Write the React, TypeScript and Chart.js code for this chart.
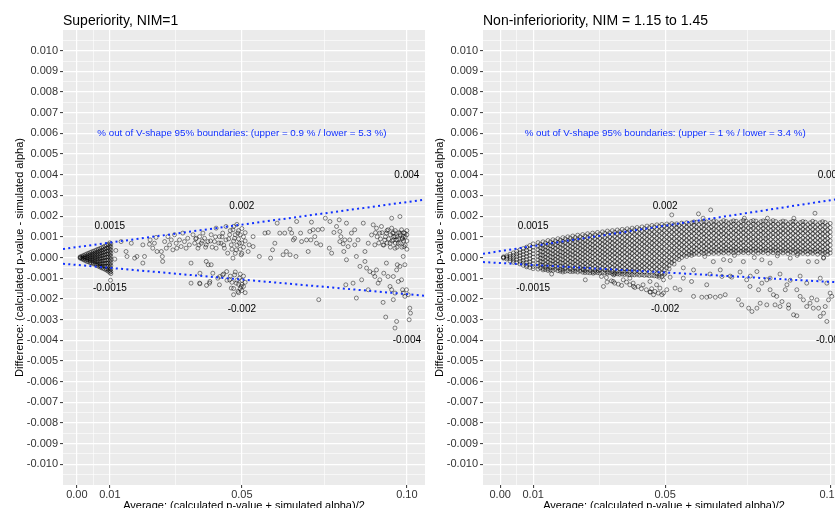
import React, { useEffect, useRef } from "react";
import { Chart, registerables } from "chart.js";

Chart.register(...registerables);

const FONT = '"Liberation Sans", Arial, Helvetica, sans-serif';
const BLUE = "#1030ff";

// ---- axes ----
const Y_MAJOR = [-0.010, -0.009, -0.008, -0.007, -0.006, -0.005, -0.004, -0.003, -0.002, -0.001, 0, 0.001, 0.002, 0.003, 0.004, 0.005, 0.006, 0.007, 0.008, 0.009, 0.010];
const Y_MINOR = [-0.0105, -0.0095, -0.0085, -0.0075, -0.0065, -0.0055, -0.0045, -0.0035, -0.0025, -0.0015, -0.0005, 0.0005, 0.0015, 0.0025, 0.0035, 0.0045, 0.0055, 0.0065, 0.0075, 0.0085, 0.0095, 0.0105];
const X_MAJOR = [0, 0.01, 0.05, 0.1];
const X_LABELS = ["0.00", "0.01", "0.05", "0.10"];
const X_MINOR = [0.005, 0.03, 0.075];
const Y_RANGE = [-0.011, 0.011];
const SUP_X_RANGE = [-0.0042, 0.1055];
const NI_X_RANGE = [-0.0052, 0.1045];

// ---- titles & annotations ----
const SUP_TITLE = "Superiority, NIM=1";
const NI_TITLE = "Non-inferioriority, NIM = 1.15 to 1.45";
const X_TITLE = "Average: (calculated p-value + simulated alpha)/2";
const Y_TITLE = "Difference: (calculated p-value - simulated alpha)";
const SUP_NOTE = "% out of V-shape 95% boundaries: (upper = 0.9 % / lower = 5.3 %)";
const NI_NOTE = "% out of V-shape 95% boundaries: (upper = 1 % / lower = 3.4 %)";
const NOTE_X = 0.05;
const NOTE_Y = 0.006;
const LABEL_TEXT = ["0.0015", "-0.0015", "0.002", "-0.002", "0.004", "-0.004"];
const LABEL_X = [0.01, 0.01, 0.05, 0.05, 0.1, 0.1];
const LABEL_Y = [0.0015, -0.0015, 0.0025, -0.0025, 0.004, -0.004];

// ---- V-shape boundary lines ----
const SUP_UPPER = [[-0.0042, 0.00041], [0.1055, 0.0028]];
const SUP_LOWER = [[-0.0042, -0.0003], [0.1055, -0.00185]];
const NI_UPPER = [[-0.0052, 0.00018], [0.1045, 0.00288]];
const NI_LOWER = [[-0.0052, -0.00022], [0.1045, -0.00122]];

// ---- Superiority points: dense near-origin column groups [x, [y...]] ----
const SUP_BLOB: [number, number[]][] = [
  [0.0010, [0, 0.00003, -0.00003]],
  [0.0015, [0.00006, -0.00002, -0.00006]],
  [0.0020, [0.0001, 0.00002, -0.00005, -0.00011]],
  [0.0025, [0.00013, 0.00004, -0.00004, -0.00014]],
  [0.0030, [0.00017, 0.00007, -0.00002, -0.00011, -0.00019]],
  [0.0035, [0.0002, 0.0001, 0, -0.0001, -0.0002]],
  [0.0040, [0.00024, 0.00013, 0.00003, -0.00007, -0.00016, -0.00025]],
  [0.0045, [0.00027, 0.00016, 0.00005, -0.00005, -0.00015, -0.00026]],
  [0.0050, [0.0003, 0.00019, 0.00008, -0.00003, -0.00013, -0.00023, -0.00031]],
  [0.0055, [0.00033, 0.00022, 0.00011, 0, -0.00011, -0.00021, -0.00032]],
  [0.0060, [0.00037, 0.00025, 0.00013, 0.00002, -0.00009, -0.0002, -0.00031, -0.00038]],
  [0.0065, [0.0004, 0.00028, 0.00016, 0.00004, -0.00008, -0.0002, -0.00032, -0.00042]],
  [0.0070, [0.00043, 0.00031, 0.00019, 0.00007, -0.00005, -0.00017, -0.00029, -0.0004, -0.00046]],
  [0.0075, [0.00047, 0.00034, 0.00021, 0.00008, -0.00005, -0.00018, -0.00031, -0.00043, -0.0005]],
  [0.0080, [0.0005, 0.00037, 0.00024, 0.00011, -0.00002, -0.00015, -0.00028, -0.00041, -0.00053]],
  [0.0085, [0.00055, 0.00041, 0.00027, 0.00013, -0.00001, -0.00015, -0.00029, -0.00043, -0.00057]],
  [0.0090, [0.00059, 0.00045, 0.0003, 0.00016, 0.00002, -0.00012, -0.00027, -0.00041, -0.00055, -0.00061]],
  [0.0095, [0.00063, 0.00048, 0.00033, 0.00018, 0.00003, -0.00012, -0.00027, -0.00042, -0.00056, -0.00066]],
  [0.0100, [0.00071, 0.00057, 0.00042, 0.00027, 0.00012, -0.00003, -0.00018, -0.00033, -0.00048, -0.00062, -0.00072]],
  [0.0103, [0.00066, 0.0005, 0.00035, 0.0002, 0.00005, -0.0001, -0.00025, -0.0004, -0.00055, -0.00068, -0.00078]],
];

// ---- Superiority points: scattered [x, y] ----
const SUP_MID: [number, number][] = [
  [0.0102, -0.0011], [0.0115, -0.00008], [0.0118, 0.00034], [0.0134, 0.00077], [0.0149, 0.00029], [0.0152, 0.00005],
  [0.0165, 0.00069], [0.0175, -0.00003], [0.0182, 0.00005], [0.020, 0.00061], [0.020, -0.00027], [0.0205, 0.00005],
  [0.022, 0.00064], [0.0222, 0.00085], [0.023, 0.00045], [0.0235, 0.00069], [0.024, 0.00097], [0.0243, 0.00029],
  [0.0256, 0.00029], [0.0259, 0.00005], [0.026, -0.00019], [0.0266, 0.00077], [0.0271, 0.00045], [0.0276, 0.00101],
  [0.0281, 0.00061], [0.0286, 0.00085], [0.0291, 0.00037], [0.0296, 0.0011], [0.0301, 0.00069], [0.0303, 0.00045],
  [0.0311, 0.00085], [0.0316, 0.00053], [0.0321, 0.00118], [0.0326, 0.00077], [0.0331, 0.00045], [0.0336, 0.00093],
  [0.0341, 0.00061], [0.0346, -0.00027], [0.0346, -0.00124], [0.0352, 0.0011], [0.0357, 0.00069], [0.0362, 0.00093],
  [0.0367, 0.00045], [0.0372, 0.00101], [0.0372, -0.00124], [0.0377, 0.00069], [0.0382, 0.00118], [0.0387, 0.00093],
  [0.0392, -0.00019], [0.0392, 0.00061], [0.0397, 0.00077], [0.0402, -0.00124], [0.0407, 0.0011], [0.0407, -0.00035],
  [0.0412, -0.00076], [0.0417, 0.00077], [0.0422, 0.00142], [0.0422, 0.00045], [0.0427, -0.001], [0.0432, 0.00101],
  [0.0432, -0.00132], [0.0437, 0.00069], [0.0442, 0.00118], [0.0442, -0.00084], [0.0447, 0.00045], [0.0452, 0.0015],
  [0.0452, 0.00085], [0.0454, -0.00068], [0.0457, 0.00021], [0.0463, 0.0011], [0.0463, -0.00108], [0.0468, 0.00061],
  [0.0468, -0.00148], [0.0473, 0.00134], [0.0473, -0.00003], [0.0478, 0.00093], [0.0478, -0.00084], [0.0483, 0.00037],
  [0.0483, -0.00124], [0.0488, 0.00118], [0.0488, -0.00164], [0.0493, 0.00069], [0.0493, -0.001], [0.0498, 0.00013],
  [0.0498, -0.0014], [0.0373, -0.00076], [0.0398, -0.00035], [0.0403, -0.00116], [0.0433, -0.00092], [0.0373, -0.00127],
  [0.0393, -0.00135], [0.046, 0.0009], [0.0465, 0.0013], [0.047, 0.0004], [0.0475, 0.0008], [0.048, 0.0011],
  [0.048, 0.0002], [0.0485, 0.0006], [0.049, 0.0013], [0.049, 0.0009], [0.0495, 0.0004], [0.0495, 0.0011],
  [0.05, 0.0007], [0.05, 0.0014], [0.05, 0.0002], [0.0505, 0.001], [0.0505, 0.0005], [0.051, 0.0012],
  [0.051, 0.0008], [0.0445, 0.0006], [0.044, 0.001], [0.043, 0.0007], [0.042, 0.001], [0.041, 0.0005],
  [0.0405, 0.0008], [0.039, 0.0005], [0.038, 0.0008], [0.037, 0.0006], [0.036, 0.0009], [0.0475, 0.0015],
  [0.0485, 0.0016], [0.0465, -0.0009], [0.047, -0.0012], [0.0475, -0.0015], [0.048, -0.0007], [0.0485, -0.0011],
  [0.049, -0.0013], [0.049, -0.0017], [0.0495, -0.0008], [0.0495, -0.0015], [0.05, -0.0011], [0.05, -0.0013],
  [0.05, -0.0016], [0.0505, -0.0009], [0.0505, -0.0014], [0.051, -0.0012], [0.051, -0.0017], [0.0455, -0.0011],
  [0.0445, -0.0008], [0.0475, -0.0018],
];

const SUP_FAR: [number, number][] = [
  [0.0522, 0.00061], [0.0534, 0.00101], [0.0534, 0.00053], [0.0519, 0.00029], [0.0553, 0.00005], [0.057, 0.00118],
  [0.058, 0.00121], [0.0587, -0.00003], [0.0593, 0.00037], [0.06, 0.00069], [0.0607, 0.00166], [0.0615, 0.00118],
  [0.0625, 0.00013], [0.063, 0.00118], [0.0635, 0.00029], [0.0646, 0.00137], [0.0646, 0.00013], [0.0651, 0.00118],
  [0.0656, 0.00085], [0.066, 0.00093], [0.0664, 0.00005], [0.0666, 0.00174], [0.0678, 0.00118], [0.0681, 0.00077],
  [0.0696, 0.00085], [0.0701, 0.00029], [0.0706, 0.00126], [0.0709, 0.00085], [0.0711, 0.00171], [0.0716, 0.00134],
  [0.0721, 0.00101], [0.0726, 0.00069], [0.0731, 0.00134], [0.0733, -0.00204], [0.0739, 0.00061], [0.0744, 0.00137],
  [0.0753, 0.0019], [0.0767, 0.00174], [0.0765, 0.00045], [0.0772, 0.00021], [0.0779, 0.00121], [0.0787, 0.0015],
  [0.0795, 0.00182], [0.0797, 0.00126], [0.08, 0.00101], [0.0797, 0.00077], [0.0807, 0.00066], [0.0809, 0.00029],
  [0.0815, -0.00132], [0.0817, 0.00166], [0.0812, 0.00085], [0.0817, -0.00011], [0.0822, 0.00053], [0.0827, 0.00085],
  [0.0832, 0.00118], [0.0837, -0.00124], [0.0842, 0.00134], [0.0842, 0.00061], [0.0847, 0.00005], [0.0847, -0.00196],
  [0.0852, 0.00085], [0.0858, -0.00043], [0.0863, -0.00108], [0.0868, 0.00166], [0.0873, -0.00019], [0.0873, 0.00029],
  [0.0878, -0.00051], [0.0883, 0.00069], [0.0883, -0.00156], [0.0888, -0.00068], [0.0893, 0.00109], [0.0898, 0.00158],
  [0.0898, -0.00076], [0.0903, 0.00061], [0.0903, -0.00092], [0.0908, 0.00142], [0.0908, -0.0006], [0.0913, -0.00124],
  [0.0918, 0.00118], [0.0918, -0.00108], [0.0923, 0.0015], [0.0928, 0.00061], [0.0928, -0.00217], [0.093, -0.00076],
  [0.0933, 0.00085], [0.0936, -0.00288], [0.0938, 0.00118], [0.0938, -0.00027], [0.0943, 0.00134], [0.0943, -0.00092],
  [0.0949, 0.00069], [0.0949, -0.0014], [0.0954, 0.0019], [0.0954, 0.00142], [0.0954, -0.00156], [0.0957, 0.00118],
  [0.0959, 0.00085], [0.0959, -0.00092], [0.0959, -0.00204], [0.0964, 0.00101], [0.0964, 0.00045], [0.0964, -0.00172],
  [0.0964, -0.00341], [0.0969, 0.00085], [0.0969, -0.0006], [0.0969, -0.00309], [0.0971, -0.00035], [0.0974, 0.00069],
  [0.0974, -0.00116], [0.0979, 0.00198], [0.0979, 0.00118], [0.0979, -0.00043], [0.0984, 0.00134], [0.0984, -0.00108],
  [0.0987, 0.00093], [0.0987, -0.00156], [0.0989, 0.00101], [0.0989, 0.00005], [0.0989, -0.00172], [0.0991, 0.00053],
  [0.0994, 0.00118], [0.0994, -0.00035], [0.0994, -0.00188], [0.0999, -0.00156], [0.1004, -0.0018], [0.1009, -0.00245],
  [0.1011, -0.00269], [0.1007, -0.00301], [0.092, 0.0009], [0.0925, 0.0012], [0.093, 0.0006], [0.0935, 0.001],
  [0.094, 0.0013], [0.094, 0.0007], [0.0945, 0.0009], [0.095, 0.0011], [0.095, 0.0005], [0.0955, 0.0008],
  [0.096, 0.0012], [0.096, 0.001], [0.0965, 0.0007], [0.0965, 0.0013], [0.097, 0.001], [0.097, 0.0005],
  [0.0975, 0.0012], [0.0975, 0.0009], [0.098, 0.0007], [0.098, 0.0011], [0.0985, 0.0009], [0.0985, 0.0005],
  [0.099, 0.0012], [0.099, 0.0008], [0.0995, 0.001], [0.0995, 0.0006], [0.1, 0.0011], [0.1, 0.0008],
  [0.1, 0.0013], [0.1, 0.0004], [0.0915, 0.0007], [0.091, 0.001], [0.0905, 0.0012],
];

// ---- Non-inferiority points: dense band column groups [x, [y...]] ----
const NI_BAND: [number, number[]][] = [
  [0.0010, [0.00003, -0.00003, 0]],
  [0.0020, [0.00008, 0.00001, -0.00007]],
  [0.0030, [0.00016, 0.00005, -0.00006, -0.00017]],
  [0.0040, [0.00022, 0.0001, -0.00002, -0.00013, -0.00023]],
  [0.0050, [0.0003, 0.00017, 0.00004, -0.0001, -0.00024]],
  [0.0060, [0.00037, 0.00023, 0.00009, -0.00005, -0.00018, -0.00031]],
  [0.0070, [0.00043, 0.00029, 0.00014, 0, -0.00014, -0.00027, -0.00038]],
  [0.0080, [0.0005, 0.00035, 0.0002, 0.00005, -0.0001, -0.00024, -0.00038, -0.00045]],
  [0.0090, [0.00058, 0.00042, 0.00026, 0.0001, -0.00006, -0.00021, -0.00035, -0.00048]],
  [0.0100, [0.00066, 0.0005, 0.00034, 0.00018, 0.00002, -0.00014, -0.0003, -0.00044, -0.00054]],
  [0.0115, [0.00072, 0.00055, 0.00038, 0.00021, 0.00005, -0.00011, -0.00027, -0.00042, -0.00056]],
  [0.0130, [0.00076, 0.0006, 0.00043, 0.00027, 0.0001, -0.00006, -0.00022, -0.00038, -0.00053, -0.0006]],
  [0.0145, [0.00082, 0.00064, 0.00046, 0.00029, 0.00012, -0.00005, -0.00022, -0.00039, -0.00056, -0.00063]],
  [0.0160, [0.00086, 0.00069, 0.00052, 0.00034, 0.00017, 0, -0.00017, -0.00033, -0.0005, -0.00062]],
  [0.0175, [0.00091, 0.00072, 0.00054, 0.00036, 0.00018, 0.00001, -0.00016, -0.00033, -0.0005, -0.00064]],
  [0.0190, [0.00096, 0.00078, 0.0006, 0.00042, 0.00024, 0.00006, -0.00011, -0.00028, -0.00045, -0.00061, -0.0007]],
  [0.0205, [0.001, 0.00082, 0.00063, 0.00044, 0.00026, 0.00008, -0.0001, -0.00028, -0.00046, -0.00064]],
  [0.0220, [0.00104, 0.00085, 0.00066, 0.00048, 0.0003, 0.00012, -0.00006, -0.00024, -0.00042, -0.0006, -0.00068]],
  [0.0235, [0.00108, 0.00089, 0.0007, 0.00051, 0.00033, 0.00014, -0.00004, -0.00022, -0.0004, -0.00058, -0.0007]],
  [0.0250, [0.00111, 0.00092, 0.00073, 0.00054, 0.00036, 0.00017, -0.00002, -0.0002, -0.00039, -0.00057, -0.00071]],
  [0.0265, [0.00115, 0.00096, 0.00076, 0.00057, 0.00038, 0.00019, 0, -0.00019, -0.00038, -0.00056, -0.00072]],
  [0.0280, [0.00118, 0.00099, 0.0008, 0.00061, 0.00042, 0.00023, 0.00004, -0.00015, -0.00034, -0.00053, -0.0007]],
  [0.0295, [0.00121, 0.00101, 0.00082, 0.00062, 0.00043, 0.00023, 0.00004, -0.00016, -0.00035, -0.00054, -0.00073]],
  [0.0310, [0.00124, 0.00104, 0.00084, 0.00065, 0.00045, 0.00026, 0.00007, -0.00013, -0.00032, -0.00051, -0.00071]],
  [0.0325, [0.00128, 0.00108, 0.00088, 0.00068, 0.00048, 0.00028, 0.00009, -0.00011, -0.0003, -0.0005, -0.00069, -0.00076]],
  [0.0340, [0.0013, 0.0011, 0.0009, 0.0007, 0.0005, 0.00031, 0.00011, -0.00009, -0.00029, -0.00048, -0.00068, -0.00078]],
  [0.0355, [0.00133, 0.00113, 0.00093, 0.00073, 0.00053, 0.00033, 0.00013, -0.00007, -0.00027, -0.00046, -0.00066, -0.00079]],
  [0.0370, [0.00136, 0.00116, 0.00095, 0.00075, 0.00055, 0.00035, 0.00015, -0.00005, -0.00025, -0.00045, -0.00065, -0.0008]],
  [0.0385, [0.00139, 0.00119, 0.00098, 0.00078, 0.00058, 0.00037, 0.00017, -0.00003, -0.00024, -0.00044, -0.00064, -0.00081]],
  [0.0400, [0.00142, 0.00122, 0.00101, 0.00081, 0.0006, 0.0004, 0.0002, -0.00001, -0.00022, -0.00042, -0.00062, -0.00082]],
  [0.0415, [0.00145, 0.00124, 0.00103, 0.00082, 0.00062, 0.00041, 0.0002, 0, -0.00021, -0.00041, -0.00061, -0.00081]],
  [0.0430, [0.00148, 0.00127, 0.00106, 0.00085, 0.00064, 0.00043, 0.00022, 0.00001, -0.0002, -0.0004, -0.0006, -0.00083]],
  [0.0445, [0.00152, 0.0013, 0.00109, 0.00088, 0.00067, 0.00046, 0.00025, 0.00004, -0.00017, -0.00038, -0.00059, -0.00084]],
  [0.0460, [0.00155, 0.00134, 0.00112, 0.00091, 0.0007, 0.00049, 0.00028, 0.00006, -0.00015, -0.00036, -0.00057, -0.00086]],
  [0.0475, [0.00158, 0.00136, 0.00114, 0.00093, 0.00072, 0.0005, 0.00029, 0.00008, -0.00014, -0.00035, -0.00056, -0.00078, -0.0009]],
  [0.0490, [0.0016, 0.00139, 0.00117, 0.00096, 0.00074, 0.00052, 0.00031, 0.00009, -0.00012, -0.00033, -0.00055, -0.00076, -0.00092]],
  [0.0505, [0.00162, 0.00142, 0.0012, 0.00098, 0.00077, 0.00055, 0.00033, 0.00012, -0.0001, -0.0003, -0.0005]],
  [0.0520, [0.00164, 0.00144, 0.00122, 0.001, 0.00079, 0.00057, 0.00036, 0.00014, -0.00007, -0.00025]],
  [0.0535, [0.00163, 0.00143, 0.00122, 0.00101, 0.0008, 0.00059, 0.00038, 0.00017, -0.00004]],
  [0.0550, [0.00166, 0.00145, 0.00124, 0.00103, 0.00082, 0.00061, 0.0004, 0.00019, 0]],
  [0.0565, [0.00168, 0.00147, 0.00126, 0.00105, 0.00084, 0.00063, 0.00042, 0.00021, 0.00005]],
  [0.0580, [0.00167, 0.00146, 0.00125, 0.00104, 0.00083, 0.00062, 0.00041, 0.00022]],
  [0.0595, [0.0017, 0.00148, 0.00127, 0.00104, 0.00085, 0.00062, 0.00043, 0.00023]],
  [0.0610, [0.00169, 0.00146, 0.00127, 0.00107, 0.00084, 0.00065, 0.00043, 0.00025]],
  [0.0625, [0.00172, 0.00151, 0.00128, 0.00106, 0.00087, 0.00064, 0.00045, 0.00026]],
  [0.0640, [0.0017, 0.00148, 0.00129, 0.00107, 0.00085, 0.00066, 0.00044, 0.00027]],
  [0.0655, [0.00173, 0.00152, 0.0013, 0.00108, 0.00088, 0.00066, 0.00047, 0.00028]],
  [0.0670, [0.00171, 0.00149, 0.00129, 0.00109, 0.00086, 0.00067, 0.00045, 0.00028]],
  [0.0685, [0.00174, 0.00153, 0.0013, 0.00108, 0.00088, 0.00065, 0.00046, 0.0003]],
  [0.0700, [0.00172, 0.0015, 0.00131, 0.00109, 0.00087, 0.00068, 0.00046, 0.0003]],
  [0.0715, [0.00175, 0.00153, 0.0013, 0.00111, 0.00089, 0.00067, 0.00048, 0.00031]],
  [0.0730, [0.00173, 0.00152, 0.00132, 0.0011, 0.00088, 0.00069, 0.00047, 0.0003]],
  [0.0745, [0.00176, 0.00154, 0.00131, 0.0011, 0.0009, 0.00068, 0.00046, 0.00032]],
  [0.0760, [0.00174, 0.00152, 0.00133, 0.00111, 0.00089, 0.00069, 0.00048, 0.0003]],
  [0.0775, [0.00176, 0.00155, 0.00132, 0.0011, 0.00088, 0.00068, 0.00047, 0.00031]],
  [0.0790, [0.00173, 0.00152, 0.0013, 0.00111, 0.00089, 0.00067, 0.00048, 0.0003]],
  [0.0805, [0.00175, 0.00153, 0.00131, 0.00109, 0.0009, 0.00068, 0.00046, 0.00032]],
  [0.0820, [0.00172, 0.00151, 0.00131, 0.00109, 0.00087, 0.00067, 0.00046, 0.0003]],
  [0.0835, [0.00174, 0.00152, 0.0013, 0.0011, 0.00088, 0.00066, 0.00047, 0.00031]],
  [0.0850, [0.00171, 0.0015, 0.00128, 0.00108, 0.00087, 0.00066, 0.00045, 0.00029]],
  [0.0865, [0.00173, 0.00151, 0.0013, 0.00108, 0.00086, 0.00066, 0.00045, 0.0003]],
  [0.0880, [0.0017, 0.00149, 0.00128, 0.00107, 0.00087, 0.00065, 0.00044, 0.00028]],
  [0.0895, [0.00172, 0.0015, 0.00127, 0.00107, 0.00085, 0.00065, 0.00044, 0.00029]],
  [0.0910, [0.00169, 0.00148, 0.00127, 0.00106, 0.00086, 0.00064, 0.00043, 0.00027]],
  [0.0925, [0.00171, 0.00149, 0.00128, 0.00106, 0.00085, 0.00063, 0.00043, 0.00028]],
  [0.0940, [0.00168, 0.00147, 0.00126, 0.00105, 0.00084, 0.00064, 0.00042, 0.00026]],
  [0.0955, [0.0017, 0.00148, 0.00127, 0.00105, 0.00083, 0.00063, 0.00042, 0.00027]],
  [0.0970, [0.00168, 0.00147, 0.00125, 0.00105, 0.00084, 0.00062, 0.00042, 0.00025]],
  [0.0985, [0.00169, 0.00148, 0.00126, 0.00104, 0.00084, 0.00063, 0.00041, 0.00024]],
  [0.1000, [0.00165, 0.00144, 0.00123, 0.00102, 0.00081, 0.0006, 0.00039, 0.00022]],
];

// ---- Non-inferiority points: second, interleaved dense band [x, [y...]] ----
const NI_BAND_B: [number, number[]][] = [
  [0.0122, [0.00064, 0.00047, 0.0003, 0.00013, -0.00003, -0.00019, -0.00035, -0.0005]],
  [0.0137, [0.0007, 0.00051, 0.00036, 0.00018, 0.00002, -0.00014, -0.00031, -0.00046, -0.00058]],
  [0.0152, [0.00075, 0.00057, 0.0004, 0.00022, 0.00004, -0.00013, -0.00029, -0.00048, -0.0006]],
  [0.0167, [0.0008, 0.00061, 0.00044, 0.00025, 0.00008, -0.00009, -0.00026, -0.00042, -0.00057]],
  [0.0182, [0.00084, 0.00065, 0.00047, 0.00028, 0.00011, -0.00007, -0.00025, -0.00041, -0.00058, -0.00066]],
  [0.0197, [0.0009, 0.0007, 0.00052, 0.00033, 0.00015, -0.00002, -0.0002, -0.00037, -0.00053, -0.00067]],
  [0.0212, [0.00094, 0.00073, 0.00055, 0.00036, 0.00017, -0.00001, -0.00019, -0.00037, -0.00055, -0.00068]],
  [0.0227, [0.00097, 0.00076, 0.00058, 0.00039, 0.00021, 0.00003, -0.00015, -0.00033, -0.00051, -0.00066]],
  [0.0242, [0.001, 0.0008, 0.00061, 0.00043, 0.00024, 0.00005, -0.00013, -0.00031, -0.00049, -0.00065]],
  [0.0257, [0.00104, 0.00083, 0.00065, 0.00045, 0.00027, 0.00008, -0.00011, -0.00029, -0.00047, -0.00064, -0.00073]],
  [0.0272, [0.00107, 0.00087, 0.00067, 0.00048, 0.00029, 0.0001, -0.00009, -0.00027, -0.00046, -0.00063, -0.00074]],
  [0.0287, [0.0011, 0.0009, 0.00071, 0.00051, 0.00033, 0.00013, -0.00006, -0.00025, -0.00044, -0.00062, -0.00072]],
  [0.0302, [0.00113, 0.00093, 0.00073, 0.00054, 0.00034, 0.00015, -0.00004, -0.00023, -0.00042, -0.00061, -0.00075]],
  [0.0317, [0.00117, 0.00096, 0.00076, 0.00056, 0.00037, 0.00017, -0.00002, -0.00021, -0.0004, -0.0006, -0.00074]],
  [0.0332, [0.0012, 0.00099, 0.00079, 0.00059, 0.00039, 0.00019, 0, -0.00019, -0.00039, -0.00058, -0.00073]],
  [0.0347, [0.00122, 0.00102, 0.00081, 0.00061, 0.00041, 0.00021, 0.00002, -0.00018, -0.00037, -0.00057, -0.00074, -0.0008]],
  [0.0362, [0.00125, 0.00104, 0.00083, 0.00063, 0.00043, 0.00023, 0.00004, -0.00016, -0.00036, -0.00055, -0.00072, -0.00081]],
  [0.0377, [0.00128, 0.00107, 0.00086, 0.00065, 0.00045, 0.00025, 0.00005, -0.00015, -0.00034, -0.00054, -0.00072, -0.00082]],
  [0.0392, [0.00131, 0.0011, 0.00089, 0.00068, 0.00048, 0.00027, 0.00007, -0.00013, -0.00033, -0.00053, -0.00071, -0.00083]],
  [0.0407, [0.00134, 0.00113, 0.00092, 0.00071, 0.0005, 0.0003, 0.00009, -0.00011, -0.00031, -0.00051, -0.00071, -0.00084]],
  [0.0422, [0.00137, 0.00116, 0.00095, 0.00074, 0.00053, 0.00032, 0.00011, -0.0001, -0.0003, -0.0005, -0.0007, -0.00085]],
  [0.0437, [0.0014, 0.00119, 0.00097, 0.00076, 0.00055, 0.00034, 0.00013, -0.00008, -0.00029, -0.00049, -0.0007, -0.00086]],
  [0.0452, [0.00144, 0.00122, 0.00101, 0.00079, 0.00058, 0.00037, 0.00016, -0.00005, -0.00026, -0.00047, -0.00068, -0.00088]],
  [0.0467, [0.00147, 0.00125, 0.00103, 0.00082, 0.00061, 0.00039, 0.00018, -0.00003, -0.00024, -0.00045, -0.00067, -0.00089]],
  [0.0482, [0.0015, 0.00128, 0.00106, 0.00084, 0.00063, 0.00042, 0.0002, -0.00001, -0.00022, -0.00044, -0.00065, -0.00086, -0.00095]],
  [0.0497, [0.00152, 0.00131, 0.00109, 0.00087, 0.00066, 0.00044, 0.00022, 0.00001, -0.0002, -0.00041, -0.00062, -0.00082]],
  [0.0512, [0.00155, 0.00133, 0.00111, 0.0009, 0.00068, 0.00046, 0.00025, 0.00003, -0.00018, -0.00038, -0.00055]],
  [0.0527, [0.00157, 0.00135, 0.00113, 0.00092, 0.0007, 0.00048, 0.00027, 0.00005, -0.00015, -0.00032]],
  [0.0542, [0.00155, 0.00134, 0.00112, 0.00091, 0.0007, 0.00049, 0.00028, 0.00008, -0.0001]],
  [0.0557, [0.00158, 0.00136, 0.00115, 0.00094, 0.00073, 0.00052, 0.00031, 0.0001]],
  [0.0572, [0.0016, 0.00138, 0.00116, 0.00095, 0.00074, 0.00053, 0.00032, 0.00014]],
  [0.0602, [0.0016, 0.00138, 0.00117, 0.00096, 0.00075, 0.00054, 0.00034, 0.00015]],
  [0.0632, [0.00162, 0.0014, 0.00118, 0.00097, 0.00076, 0.00055, 0.00035, 0.00018]],
  [0.0662, [0.00163, 0.00141, 0.00119, 0.00098, 0.00077, 0.00056, 0.00036, 0.0002]],
  [0.0692, [0.00165, 0.00143, 0.0012, 0.00099, 0.00078, 0.00057, 0.00037, 0.00021]],
  [0.0722, [0.00164, 0.00142, 0.00121, 0.001, 0.00079, 0.00058, 0.00038, 0.00022]],
  [0.0752, [0.00166, 0.00143, 0.00121, 0.001, 0.00079, 0.00058, 0.00038, 0.00022]],
  [0.0782, [0.00164, 0.00142, 0.0012, 0.00099, 0.00078, 0.00057, 0.00037, 0.00021]],
  [0.0812, [0.00163, 0.00141, 0.0012, 0.00099, 0.00078, 0.00057, 0.00037, 0.0002]],
  [0.0842, [0.00162, 0.0014, 0.00119, 0.00098, 0.00077, 0.00056, 0.00036, 0.0002]],
  [0.0872, [0.00161, 0.00139, 0.00118, 0.00097, 0.00076, 0.00055, 0.00035, 0.00019]],
  [0.0902, [0.0016, 0.00138, 0.00117, 0.00096, 0.00075, 0.00054, 0.00034, 0.00018]],
  [0.0932, [0.00159, 0.00137, 0.00116, 0.00095, 0.00074, 0.00053, 0.00033, 0.00017]],
  [0.0962, [0.00158, 0.00136, 0.00115, 0.00094, 0.00073, 0.00052, 0.00032, 0.00016]],
  [0.0992, [0.00156, 0.00134, 0.00113, 0.00092, 0.00071, 0.0005, 0.0003, 0.00015]],
];

// ---- Non-inferiority points: third band layer, upper-right region [x, [y...]] ----
const NI_BAND_C: [number, number[]][] = [
  [0.0587, [0.00172, 0.00156, 0.00135, 0.00116, 0.00093, 0.00073, 0.00052, 0.00033, 0.00016]],
  [0.0617, [0.00175, 0.00157, 0.00137, 0.00115, 0.00096, 0.00074, 0.00055, 0.00035, 0.00019]],
  [0.0647, [0.00176, 0.00158, 0.00136, 0.00117, 0.00095, 0.00076, 0.00054, 0.00036, 0.0002]],
  [0.0677, [0.00178, 0.00159, 0.00138, 0.00116, 0.00097, 0.00075, 0.00056, 0.00037, 0.00022]],
  [0.0707, [0.00177, 0.00161, 0.00139, 0.00118, 0.00096, 0.00077, 0.00055, 0.00038, 0.00023]],
  [0.0737, [0.00179, 0.0016, 0.00138, 0.00119, 0.00098, 0.00076, 0.00057, 0.00037, 0.00024]],
  [0.0767, [0.00178, 0.00161, 0.0014, 0.00118, 0.00097, 0.00078, 0.00056, 0.00039, 0.00023]],
  [0.0797, [0.00177, 0.00159, 0.00139, 0.00119, 0.00096, 0.00077, 0.00057, 0.00038, 0.00024]],
  [0.0827, [0.00178, 0.0016, 0.00138, 0.00117, 0.00098, 0.00076, 0.00055, 0.00037, 0.00023]],
  [0.0857, [0.00176, 0.00158, 0.00137, 0.00118, 0.00096, 0.00075, 0.00056, 0.00036, 0.00022]],
  [0.0887, [0.00175, 0.00159, 0.00138, 0.00116, 0.00095, 0.00076, 0.00054, 0.00037, 0.00021]],
  [0.0917, [0.00174, 0.00157, 0.00136, 0.00117, 0.00094, 0.00074, 0.00055, 0.00035, 0.0002]],
  [0.0947, [0.00175, 0.00156, 0.00135, 0.00115, 0.00095, 0.00073, 0.00053, 0.00034, 0.0002]],
  [0.0977, [0.00173, 0.00155, 0.00134, 0.00114, 0.00093, 0.00072, 0.00052, 0.00033, 0.00019]],
];

// ---- Non-inferiority points: scattered [x, y] ----
const NI_SPARSE: [number, number][] = [
  [0.0156, -0.0008], [0.0252, -0.0006], [0.0258, -0.00108], [0.0282, -0.00076], [0.0297, -0.00064], [0.0307, -0.00092],
  [0.0313, -0.0014], [0.0322, -0.00097], [0.0324, -0.00119], [0.0337, -0.00113], [0.0343, -0.00116], [0.0344, -0.00084],
  [0.0347, -0.00124], [0.0358, -0.00129], [0.0368, -0.00135], [0.0373, -0.00108], [0.0383, -0.00119], [0.0393, -0.00132],
  [0.0393, -0.001], [0.0403, -0.00124], [0.0404, -0.0014], [0.0408, -0.00145], [0.0418, -0.0014], [0.0428, -0.00151],
  [0.0433, -0.00132], [0.0443, -0.00156], [0.0454, -0.00167], [0.0455, -0.00167], [0.0454, -0.00116], [0.0459, -0.00151],
  [0.0469, -0.00164], [0.0474, -0.00132], [0.0479, -0.00172], [0.0484, -0.00148], [0.049, -0.0018], [0.0465, -0.0018],
  [0.0495, -0.00108], [0.05, -0.00076], [0.0515, -0.00095], [0.0495, -0.00172], [0.0505, -0.00156], [0.053, -0.00148],
  [0.0545, -0.00156], [0.0555, -0.001], [0.058, -0.00116], [0.0586, -0.00188], [0.0611, -0.00192], [0.0626, -0.00132],
  [0.0626, -0.00192], [0.0636, -0.00188], [0.0652, -0.00192], [0.0667, -0.00188], [0.0672, -0.00092], [0.0682, -0.0018],
  [0.0702, -0.00095], [0.0722, -0.00204], [0.0732, -0.00229], [0.0747, -0.00108], [0.0753, -0.00245], [0.0757, -0.0014],
  [0.0763, -0.00261], [0.0778, -0.00068], [0.0778, -0.00245], [0.0783, -0.00156], [0.0788, -0.00221], [0.0793, -0.00124],
  [0.0808, -0.00108], [0.0808, -0.00229], [0.0818, -0.00156], [0.0828, -0.0018], [0.0833, -0.00229], [0.0838, -0.00188],
  [0.0848, -0.00237], [0.0854, -0.00213], [0.0864, -0.00156], [0.0869, -0.00132], [0.0874, -0.00229], [0.0874, -0.00245],
  [0.0889, -0.00277], [0.0899, -0.00156], [0.0899, -0.00282], [0.0909, -0.00188], [0.0919, -0.00205], [0.0929, -0.00124],
  [0.0929, -0.00237], [0.0939, -0.00221], [0.0944, -0.00196], [0.0949, -0.00245], [0.096, -0.00205], [0.0965, -0.00245],
  [0.097, -0.00285], [0.098, -0.00269], [0.0985, -0.00237], [0.099, -0.00309], [0.099, -0.00124], [0.0995, -0.00205],
  [0.1, -0.00172], [0.1005, -0.00188], [0.0646, -0.0002], [0.0697, -0.00015], [0.0677, -0.0001], [0.0737, -0.0002],
  [0.0793, -0.00011], [0.0818, -0.00027], [0.0879, -0.00003], [0.0934, -0.0002], [0.098, -0.00003], [0.096, -0.0002],
  [0.058, 0.0001], [0.062, 0.00005], [0.071, 0.0001], [0.077, 0], [0.084, 0.00008], [0.09, 0.0001], [0.098, 0],
  [0.052, 0.00206], [0.0601, 0.00211], [0.0638, 0.0023], [0.0954, 0.00214], [0.0615, 0.0019], [0.074, 0.0019],
  [0.081, 0.0019], [0.089, 0.0019], [0.0555, -0.0005], [0.0586, -0.0006], [0.0636, -0.0008], [0.0667, -0.0006],
  [0.0697, -0.0009], [0.0727, -0.0007], [0.0758, -0.0009], [0.0818, -0.001], [0.0848, -0.0008], [0.0879, -0.0011],
  [0.0909, -0.0009], [0.097, -0.001],
];

type Pair = [number, number];

function fromCols(cols: [number, number[]][]) {
  const out: { x: number; y: number }[] = [];
  cols.forEach(([x, ys]) => ys.forEach((y) => out.push({ x, y })));
  return out;
}
function fromPairs(pairs: Pair[]) {
  return pairs.map(([x, y]) => ({ x, y }));
}

type PanelProps = {
  left: number;
  title: string;
  note: string;
  xRange: number[];
  points: { x: number; y: number }[];
  upper: number[][];
  lower: number[][];
};

function Panel({ left, title, note, xRange, points, upper, lower }: PanelProps) {
  const ref = useRef<HTMLCanvasElement>(null);
  useEffect(() => {
    const decor = {
      id: "decor",
      beforeDraw(chart: any) {
        const { ctx, chartArea: a } = chart;
        ctx.save();
        ctx.fillStyle = "#EBEBEB";
        ctx.fillRect(a.left, a.top, a.right - a.left, a.bottom - a.top);
        ctx.restore();
      },
      afterDatasetsDraw(chart: any) {
        const { ctx, scales } = chart;
        const xs = scales.x;
        const ys = scales.y;
        ctx.save();
        ctx.fillStyle = "#000";
        ctx.font = `10px ${FONT}`;
        ctx.textAlign = "center";
        ctx.textBaseline = "middle";
        LABEL_TEXT.forEach((t, i) => {
          ctx.fillText(t, xs.getPixelForValue(LABEL_X[i]), ys.getPixelForValue(LABEL_Y[i]));
        });
        ctx.fillStyle = BLUE;
        ctx.font = `9.8px ${FONT}`;
        ctx.fillText(note, xs.getPixelForValue(NOTE_X), ys.getPixelForValue(NOTE_Y));
        ctx.restore();
      },
      afterDraw(chart: any) {
        const { ctx, chartArea: a } = chart;
        ctx.save();
        ctx.fillStyle = "#000";
        ctx.font = `14px ${FONT}`;
        ctx.textAlign = "left";
        ctx.textBaseline = "alphabetic";
        ctx.fillText(title, a.left, 25);
        ctx.font = `11px ${FONT}`;
        ctx.textAlign = "center";
        ctx.fillText(X_TITLE, (a.left + a.right) / 2, 509);
        ctx.translate(19.5, (a.top + a.bottom) / 2);
        ctx.rotate(-Math.PI / 2);
        ctx.textBaseline = "middle";
        ctx.fillText(Y_TITLE, 0, 0);
        ctx.restore();
      },
    };

    const gridCommon = {
      color: "#FFFFFF",
      lineWidth: (c: any) => (c.tick && c.tick.minor ? 0.6 : 1.2),
      tickLength: 3,
      tickWidth: 1,
      tickColor: (c: any) => (c.tick && c.tick.minor ? "rgba(0,0,0,0)" : "#333333"),
      drawOnChartArea: true,
    };

    const chart = new Chart(ref.current as HTMLCanvasElement, {
      type: "scatter",
      data: {
        datasets: [
          {
            type: "line",
            data: fromPairs(upper as Pair[]),
            borderColor: BLUE,
            borderWidth: 2,
            borderDash: [2, 3.3],
            pointRadius: 0,
            fill: false,
            order: 0,
          } as any,
          {
            type: "line",
            data: fromPairs(lower as Pair[]),
            borderColor: BLUE,
            borderWidth: 2,
            borderDash: [2, 3.3],
            pointRadius: 0,
            fill: false,
            order: 0,
          } as any,
          {
            data: points,
            pointRadius: 2,
            pointBorderWidth: 0.8,
            pointBorderColor: "rgba(0,0,0,0.58)",
            pointBackgroundColor: "rgba(0,0,0,0)",
            order: 1,
          },
        ],
      },
      options: {
        animation: false,
        responsive: false,
        devicePixelRatio: 1,
        events: [],
        layout: { padding: { left: 0, right: 5, top: 30, bottom: 0 } },
        plugins: { legend: { display: false }, tooltip: { enabled: false } },
        scales: {
          x: {
            type: "linear",
            min: xRange[0],
            max: xRange[1],
            afterBuildTicks: (s: any) => {
              s.ticks = [
                ...X_MAJOR.map((v, i) => ({ value: v, lbl: X_LABELS[i] })),
                ...X_MINOR.map((v) => ({ value: v, lbl: "", minor: true })),
              ];
            },
            afterFit: (s: any) => {
              s.height = 23;
            },
            ticks: {
              autoSkip: false,
              maxRotation: 0,
              padding: 0,
              color: "#333333",
              font: { family: FONT, size: 11 },
              callback: (_v: any, i: number, ticks: any[]) => ticks[i].lbl,
            },
            grid: gridCommon as any,
            border: { display: false },
          },
          y: {
            type: "linear",
            min: Y_RANGE[0],
            max: Y_RANGE[1],
            afterBuildTicks: (s: any) => {
              s.ticks = [
                ...Y_MAJOR.map((v) => ({ value: v })),
                ...Y_MINOR.map((v) => ({ value: v, minor: true })),
              ];
            },
            afterFit: (s: any) => {
              s.width = 63;
            },
            ticks: {
              autoSkip: false,
              padding: 2,
              color: "#333333",
              font: { family: FONT, size: 11 },
              callback: (v: any, i: number, ticks: any[]) => (ticks[i].minor ? "" : Number(v).toFixed(3)),
            },
            grid: gridCommon as any,
            border: { display: false },
          },
        },
      },
      plugins: [decor],
    });
    return () => chart.destroy();
  }, []);
  return (
    <canvas
      ref={ref}
      width={430}
      height={508}
      style={{ position: "absolute", left, top: 0, width: 430, height: 508 }}
    />
  );
}

export default function App() {
  const supPoints = [...fromCols(SUP_BLOB), ...fromPairs(SUP_MID), ...fromPairs(SUP_FAR)];
  const niPoints = [...fromCols(NI_BAND), ...fromCols(NI_BAND_B), ...fromCols(NI_BAND_C), ...fromPairs(NI_SPARSE)];
  return (
    <div
      style={{
        position: "fixed",
        left: 0,
        top: 0,
        width: 835,
        height: 508,
        overflow: "hidden",
        background: "#FFFFFF",
      }}
    >
      <Panel left={0} title={SUP_TITLE} note={SUP_NOTE} xRange={SUP_X_RANGE} points={supPoints} upper={SUP_UPPER} lower={SUP_LOWER} />
      <Panel left={420} title={NI_TITLE} note={NI_NOTE} xRange={NI_X_RANGE} points={niPoints} upper={NI_UPPER} lower={NI_LOWER} />
    </div>
  );
}
